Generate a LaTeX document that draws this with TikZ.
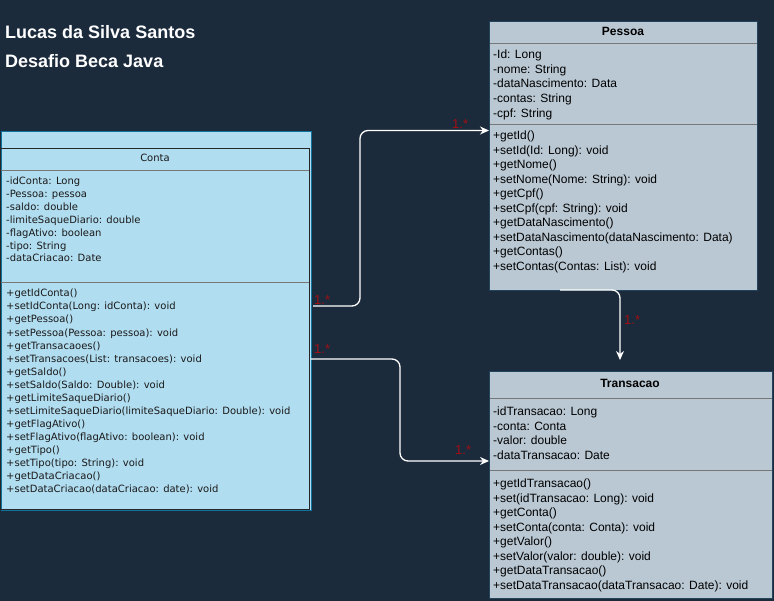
\documentclass[tikz,border=0pt]{standalone}
\usepackage{fontspec}
\setmainfont{Liberation Sans}
\newfontfamily\verd{DejaVu Sans}
\usetikzlibrary{arrows.meta}
\definecolor{bg}{HTML}{1B2B3C}
\definecolor{contafill}{HTML}{B1DDF0}
\definecolor{contaline}{HTML}{10739E}
\definecolor{grayfill}{HTML}{BAC8D3}
\definecolor{grayline}{HTML}{23445D}
\definecolor{sepline}{HTML}{777777}
\definecolor{mult}{HTML}{A00F14}
\tikzset{
  txt/.style={inner sep=0pt, anchor=base west, font=\fontsize{12}{14}\selectfont, text=black},
  ctxt/.style={inner sep=0pt, anchor=base west, font=\verd\fontsize{10}{12}\selectfont, text=black!90},
  title/.style={inner sep=0pt, anchor=base west, font=\bfseries\fontsize{18}{21}\selectfont, text=white},
  multlbl/.style={inner sep=0pt, anchor=base west, font=\fontsize{13}{15}\selectfont, text=mult},
  conn/.style={draw=white, line width=1.3pt, rounded corners=8pt, -{Stealth[length=9pt,width=8pt]}},
  classbox/.style={draw=grayline, fill=grayfill, line width=0.8pt, inner sep=0pt, anchor=north west},
}
\begin{document}
\begin{tikzpicture}[x=1pt,y=-1pt]
\useasboundingbox (0,0) rectangle (774,601);
\fill[bg] (0,0) rectangle (774,601);

% titles
\node[title] (t1) at (5,38.5) {Lucas da Silva Santos};
\node[title] (t2) at (5,67.5) {Desafio Beca Java};

% Conta
\node[draw=contaline, fill=contafill, line width=1pt, inner sep=0pt, anchor=north west,
      minimum width=310pt, minimum height=379pt] (contaout) at (0.5,131) {};
\node[draw=black!85, line width=0.8pt, inner sep=0pt, anchor=north west,
      minimum width=309pt, minimum height=361pt] (conta) at (0,148) {};
\draw[sepline, line width=0.8pt] (0.5,170) -- (308.5,170);
\draw[sepline, line width=0.8pt] (0.5,282) -- (308.5,282);
\node[inner sep=0pt, anchor=base, font=\verd\fontsize{10}{12}\selectfont, text=black!90] (contah) at (155,161.8) {Conta};
\foreach \t [count=\i] in {-idConta: Long,-Pessoa: pessoa,-saldo: double,-limiteSaqueDiario: double,-flagAtivo: boolean,-tipo: String,-dataCriacao: Date}
  \node[ctxt] (ca\i) at (6,{184.8+(\i-1)*12.85}) {\t};
\foreach \t [count=\i] in {+getIdConta(),+setIdConta(Long: idConta): void,+getPessoa(),+setPessoa(Pessoa: pessoa): void,+getTransacaoes(),+setTransacoes(List: transacoes): void,+getSaldo(),+setSaldo(Saldo: Double): void,+getLimiteSaqueDiario(),+setLimiteSaqueDiario(limiteSaqueDiario: Double): void,+getFlagAtivo(),+setFlagAtivo(flagAtivo: boolean): void,+getTipo(),+setTipo(tipo: String): void,+getDataCriacao(),+setDataCriacao(dataCriacao: date): void}
  \node[ctxt] (cm\i) at (6,{296.8+(\i-1)*13.07}) {\t};

% Pessoa
\node[classbox, minimum width=268pt, minimum height=269pt] (pessoa) at (489,21) {};
\draw[sepline, line width=0.8pt] (489.5,43) -- (756.5,43);
\draw[sepline, line width=0.8pt] (489.5,124) -- (756.5,124);
\node[inner sep=0pt, anchor=base, font=\bfseries\fontsize{12}{14}\selectfont] (pessoah) at (623,35.5) {Pessoa};
\foreach \t [count=\i] in {-Id: Long,-nome: String,-dataNascimento: Data,-contas: String,-cpf: String}
  \node[txt] (pa\i) at (493,{58.5+(\i-1)*14.7}) {\t};
\foreach \t [count=\i] in {+getId(),+setId(Id: Long): void,+getNome(),+setNome(Nome: String): void,+getCpf(),+setCpf(cpf: String): void,+getDataNascimento(),+setDataNascimento(dataNascimento: Data),+getContas(),+setContas(Contas: List): void}
  \node[txt] (pm\i) at (493,{139.5+(\i-1)*14.55}) {\t};

% Transacao
\node[classbox, minimum width=283pt, minimum height=227pt] (transacao) at (489,371) {};
\draw[sepline, line width=0.8pt] (489.5,398) -- (771.5,398);
\draw[sepline, line width=0.8pt] (489.5,470) -- (771.5,470);
\node[inner sep=0pt, anchor=base, font=\bfseries\fontsize{12}{14}\selectfont] (transacaoh) at (630,387.5) {Transacao};
\foreach \t [count=\i] in {-idTransacao: Long,-conta: Conta,-valor: double,-dataTransacao: Date}
  \node[txt] (ta\i) at (493,{415.5+(\i-1)*14.6}) {\t};
\foreach \t [count=\i] in {+getIdTransacao(),+set(idTransacao: Long): void,+getConta(),+setConta(conta: Conta): void,+getValor(),+setValor(valor: double): void,+getDataTransacao(),+setDataTransacao(dataTransacao: Date): void}
  \node[txt] (tm\i) at (493,{487.5+(\i-1)*14.5}) {\t};

% connectors
\coordinate (s1) at (313,306);
\coordinate (s2) at (310.5,359);
\coordinate (s3) at (560,290);
\draw[conn] (s1) -- (360,306) -- (360,130.5) -- (pessoa.west |- 0,130.5);
\draw[conn] (s2) -- (400,359) -- (400,461) -- (transacao.west |- 0,461);
\draw[conn] (s3) -- (620,290) -- (620,360);

% multiplicities
\node[multlbl] (m1) at (314,305) {1.*};
\node[multlbl] (m2) at (452,129) {1.*};
\node[multlbl] (m3) at (314,354) {1.*};
\node[multlbl] (m4) at (455,455) {1.*};
\node[multlbl] (m5) at (624,325) {1.*};
\end{tikzpicture}
\end{document}
